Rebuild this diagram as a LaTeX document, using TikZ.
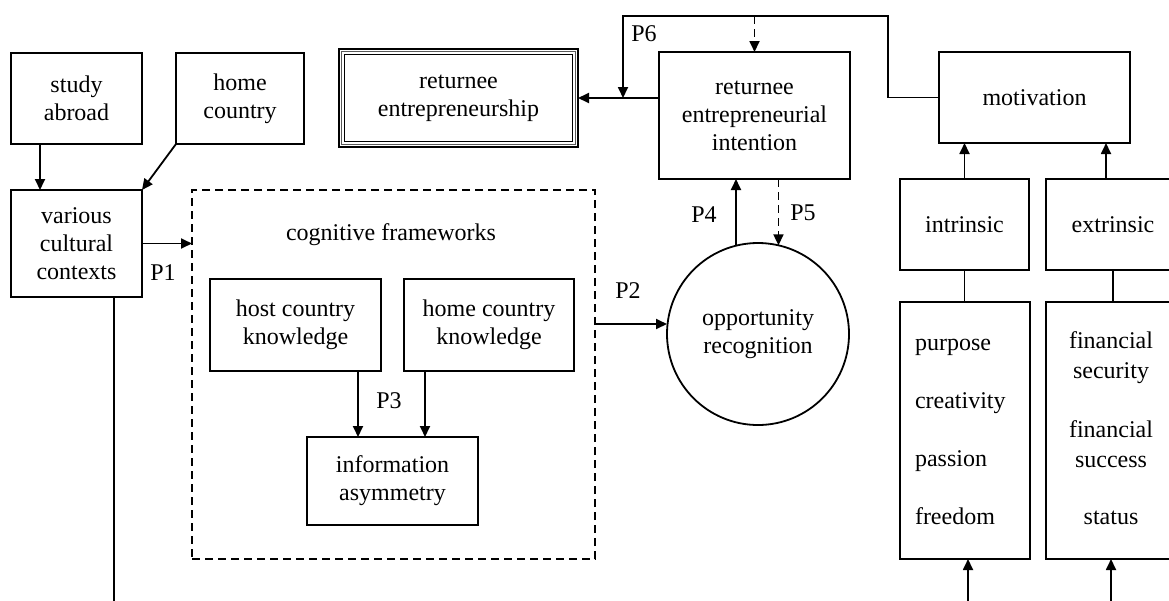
\documentclass[tikz,border=0pt]{standalone}
\usepackage{fontspec}
\setmainfont{Liberation Serif}
\usetikzlibrary{arrows.meta}
\begin{document}
\begin{tikzpicture}[x=1pt,y=-1pt,
  every node/.style={font=\fontsize{24}{28}\selectfont, inner sep=0pt, outer sep=0pt},
  bx/.style={draw, line width=1.8pt, align=center, rectangle},
  arr/.style={line width=1.8pt, -{Triangle[length=11pt,width=10pt]}},
  ln/.style={line width=1.8pt},
  dsh/.style={dash pattern=on 8pt off 5pt},
  lab/.style={anchor=base}]
\useasboundingbox (0,0) rectangle (1169,600);
\clip (0,0) rectangle (1169,600);

% left column
\node[bx, minimum width=131pt, minimum height=91pt] (sa) at (76.5,98.5) {study\\abroad};
\node[bx, minimum width=128pt, minimum height=91pt] (hc) at (240,98.5) {home\\country};
\node[bx, minimum width=131pt, minimum height=107pt] (vcc) at (76.5,243.5) {various\\cultural\\contexts};

% cognitive frameworks
\node[draw, line width=1.6pt, dsh, minimum width=403pt, minimum height=369pt] (cf) at (393.5,374.5) {};
\node[lab] (cft) at (391,240.5) {cognitive frameworks};
\node[bx, minimum width=171pt, minimum height=92pt] (hck) at (295.5,325) {host country\\knowledge};
\node[bx, minimum width=170pt, minimum height=92pt] (hmk) at (489,325) {home country\\knowledge};
\node[bx, minimum width=171pt, minimum height=88pt] (ia) at (392.5,481) {information\\asymmetry};

% opportunity recognition
\node[draw, circle, line width=1.8pt, minimum size=182pt, align=center] (or) at (758,334) {opportunity\\recognition};

% intention and entrepreneurship
\node[bx, minimum width=191pt, minimum height=127pt] (rei) at (754.5,115.5) {returnee\\entrepreneurial\\intention};
\node[draw, line width=1.5pt, minimum width=239pt, minimum height=98pt, align=center] (re) at (458.5,98) {returnee\\entrepreneurship};
\draw[line width=1pt, black!65] ([shift={(2.9pt,-2.9pt)}]re.north west) rectangle ([shift={(-2.9pt,2.9pt)}]re.south east);
\draw[line width=1.3pt] ([shift={(5.8pt,-5.8pt)}]re.north west) rectangle ([shift={(-5.8pt,5.8pt)}]re.south east);

% motivation side
\node[bx, minimum width=191pt, minimum height=91pt] (mot) at (1034.5,97.5) {motivation};
\node[bx, minimum width=129pt, minimum height=91pt] (intr) at (964.5,224.5) {intrinsic};
\node[bx, minimum width=134pt, minimum height=91pt] (extr) at (1113,224.5) {extrinsic};
\node[bx, minimum width=130pt, minimum height=257pt] (intl) at (965,430.5) {};
\node[bx, minimum width=134pt, minimum height=257pt] (extl) at (1113,430.5) {};

\node[anchor=base west] (i1) at (915,350.4) {purpose};
\node[anchor=base west] (i2) at (915,408.1) {creativity};
\node[anchor=base west] (i3) at (915,466.4) {passion};
\node[anchor=base west] (i4) at (915,524.7) {freedom};
\node[lab] (e1) at (1111,348.4) {financial};
\node[lab] (e2) at (1111,378.1) {security};
\node[lab] (e3) at (1111,437.1) {financial};
\node[lab] (e4) at (1111,467.1) {success};
\node[lab] (e5) at (1111,524.7) {status};

% labels
\node[lab] (p1) at (163,280.5) {P1};
\node[lab] (p2) at (628,298.5) {P2};
\node[lab] (p3) at (389,408.5) {P3};
\node[lab] (p4) at (704,222.5) {P4};
\node[lab] (p5) at (803,220.5) {P5};
\node[lab] (p6) at (644,41.5) {P6};

% coordinates
\coordinate (p6a) at (888,16);
\coordinate (p6b) at (623,16);
\coordinate (j6) at (623,98);
\coordinate (vend) at (114,612);
\coordinate (ib) at (968,612);
\coordinate (eb) at (1111,612);

% connectors
\draw[arr] ([xshift=29pt]sa.south west) -- ([xshift=29pt]vcc.north west);
\draw[arr] (hc.south west) -- (vcc.north east);
\draw[arr] (vcc.east) -- (vcc.east -| cf.west);
\draw[ln] ([xshift=103pt]vcc.south west) -- (vend);
\draw[arr] ([xshift=-23pt]hck.south east) -- ([xshift=-23pt]hck.south east |- ia.north);
\draw[arr] ([xshift=21pt]hmk.south west) -- ([xshift=21pt]hmk.south west |- ia.north);
\draw[arr] ([yshift=50.5pt]cf.east) -- ([yshift=50.5pt]cf.east -| or.west);
\draw[arr] (or.104.6) -- (or.104.6 |- rei.south);
\draw[arr, dsh] (rei.south -| or.77.3) -- (or.77.3);
\draw[arr] (rei.west |- re.east) -- (re.east);
\draw[arr] (mot.west) -| (p6a) -- (p6b) -- (j6);
\draw[arr, dsh] (rei.north |- p6a) -- (rei.north);
\draw[arr] (intr.north) -- (intr.north |- mot.south);
\draw[arr] ([xshift=-7pt]extr.north) -- ([xshift=-7pt]extr.north |- mot.south);
\draw[ln] (intr.south) -- (intr.south |- intl.north);
\draw[ln] (extr.south) -- (extr.south |- extl.north);
\draw[arr] (ib) -- (ib |- intl.south);
\draw[arr] (eb) -- (eb |- extl.south);
\end{tikzpicture}
\end{document}
